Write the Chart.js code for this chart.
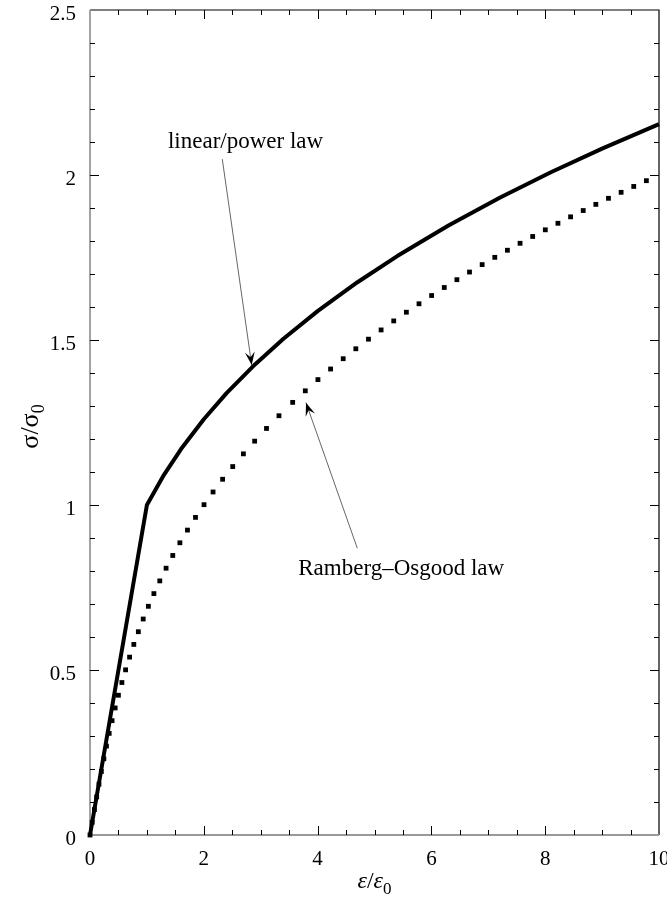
<!DOCTYPE html>
<html>
<head>
<meta charset="utf-8">
<script src="https://cdn.jsdelivr.net/npm/chart.js@4"></script>
<style>
  html, body { margin: 0; padding: 0; background: #fff; }
  #wrap { width: 667px; height: 900px; }
</style>
</head>
<body>
<div id="wrap"><canvas id="stressChart"></canvas></div>
<script>
// linear/power law curve (strain eps/eps0, stress sigma/sigma0)
const powerStrain = [0, 1, 1.3, 1.6, 2, 2.4, 2.9, 3.4, 4, 4.7, 5.4, 6.3, 7.2, 8.1, 9, 10];
const powerStress = [0, 1, 1.0914, 1.1696, 1.2599, 1.3389, 1.426, 1.5037, 1.5874, 1.6751, 1.7544, 1.8469, 1.931, 2.0083, 2.0801, 2.1544];

// Ramberg-Osgood law, one entry per dot in the dotted curve
const roStrain = [
  0, 0.0386, 0.0775, 0.117, 0.1577, 0.1996, 0.2433, 0.2891, 0.3372, 0.3881,
  0.4421, 0.4995, 0.5606, 0.6259, 0.6956, 0.7701, 0.8497, 0.9349, 1.0258, 1.1229,
  1.2265, 1.337, 1.4546, 1.5798, 1.7129, 1.8542, 2.004, 2.1627, 2.3307, 2.5083,
  2.6958, 2.8936, 3.1019, 3.3213,
  3.562, 3.784, 4.006, 4.228, 4.45, 4.672, 4.894, 5.116, 5.338, 5.56,
  5.782, 6.004, 6.226, 6.448, 6.67, 6.892, 7.114, 7.336, 7.558, 7.78,
  8.002, 8.224, 8.446, 8.668, 8.89, 9.112, 9.334, 9.556, 9.778
];
const roStress = [
  0, 0.0385, 0.077, 0.1155, 0.154, 0.1925, 0.231, 0.2695, 0.308, 0.3465,
  0.385, 0.4235, 0.462, 0.5005, 0.539, 0.5775, 0.616, 0.6545, 0.693, 0.7315,
  0.77, 0.8085, 0.847, 0.8855, 0.924, 0.9625, 1.001, 1.0395, 1.078, 1.1165,
  1.155, 1.1935, 1.232, 1.2705,
  1.311, 1.346, 1.38, 1.4121, 1.4433, 1.4734, 1.5025, 1.5305, 1.5578, 1.5842,
  1.6098, 1.6348, 1.6591, 1.6828, 1.7059, 1.7285, 1.7505, 1.772, 1.7931, 1.8137,
  1.8339, 1.8537, 1.8732, 1.8923, 1.911, 1.9294, 1.9475, 1.9653, 1.9828
];

// axis ranges and ticks
const xRange = [0, 10];
const yRange = [0, 2.5];
const xMajor = 2, xMinor = 0.5;
const yMajor = 0.5, yMinor = 0.1;

// callouts: label text, label anchor, arrow start and arrow tip (data units)
const noteText = ['linear/power law', 'Ramberg\u2013Osgood law'];
const noteAt = [[1.37, 2.083], [3.66, 0.788]];
const arrowFrom = [[2.325, 2.048], [4.698, 0.869]];
const arrowTo = [[2.842, 1.424], [3.796, 1.31]];

const serif = '"Liberation Serif", "Times New Roman", serif';

function drawArrow(ctx, x1, y1, x2, y2) {
    ctx.save();
    ctx.strokeStyle = '#555';
    ctx.lineWidth = 0.9;
    ctx.beginPath();
    ctx.moveTo(x1, y1);
    ctx.lineTo(x2, y2);
    ctx.stroke();
    const a = Math.atan2(y2 - y1, x2 - x1);
    const len = 14, wing = 0.36, notch = 8;
    ctx.fillStyle = '#000';
    ctx.beginPath();
    ctx.moveTo(x2, y2);
    ctx.lineTo(x2 - len * Math.cos(a - wing), y2 - len * Math.sin(a - wing));
    ctx.lineTo(x2 - notch * Math.cos(a), y2 - notch * Math.sin(a));
    ctx.lineTo(x2 - len * Math.cos(a + wing), y2 - len * Math.sin(a + wing));
    ctx.closePath();
    ctx.fill();
    ctx.restore();
}

// drop the extra room Chart.js keeps for the first/last tick labels
function fixScale(size, key) {
    return s => {
        s[key] = size;
        s.paddingLeft = s.paddingRight = s.paddingTop = s.paddingBottom = 0;
    };
}

const framePlugin = {
    id: 'frame',
    beforeDatasetsDraw(chart) {
        const { ctx, chartArea: a, scales: { x, y } } = chart;
        ctx.save();
        // top and right edges
        ctx.strokeStyle = '#000';
        ctx.lineWidth = 1.2;
        ctx.beginPath();
        ctx.moveTo(a.left, a.top); ctx.lineTo(a.right, a.top); ctx.lineTo(a.right, a.bottom);
        ctx.stroke();
        // left and bottom edges
        ctx.strokeStyle = '#999';
        ctx.lineWidth = 1.8;
        ctx.beginPath();
        ctx.moveTo(a.left, a.top); ctx.lineTo(a.left, a.bottom); ctx.lineTo(a.right, a.bottom);
        ctx.stroke();
        // inward ticks on all four sides
        ctx.strokeStyle = '#000';
        ctx.lineWidth = 1;
        ctx.beginPath();
        const nx = Math.round((xRange[1] - xRange[0]) / xMinor);
        for (let i = 1; i < nx; i++) {
            const v = xRange[0] + i * xMinor;
            const px = Math.round(x.getPixelForValue(v)) + 0.5;
            const major = Math.abs(v / xMajor - Math.round(v / xMajor)) < 1e-6;
            const len = major ? 9 : 5;
            ctx.moveTo(px, a.bottom); ctx.lineTo(px, a.bottom - len);
            ctx.moveTo(px, a.top); ctx.lineTo(px, a.top + len);
        }
        const ny = Math.round((yRange[1] - yRange[0]) / yMinor);
        for (let i = 1; i < ny; i++) {
            const v = yRange[0] + i * yMinor;
            const py = Math.round(y.getPixelForValue(v)) + 0.5;
            const major = Math.abs(v / yMajor - Math.round(v / yMajor)) < 1e-6;
            const len = major ? 9 : 5;
            ctx.moveTo(a.left, py); ctx.lineTo(a.left + len, py);
            ctx.moveTo(a.right, py); ctx.lineTo(a.right - len, py);
        }
        ctx.stroke();
        ctx.restore();
    },
    afterDraw(chart) {
        const { ctx, chartArea: a, scales: { x, y } } = chart;
        ctx.save();
        // callouts
        for (let i = 0; i < noteText.length; i++) {
            drawArrow(ctx,
                x.getPixelForValue(arrowFrom[i][0]), y.getPixelForValue(arrowFrom[i][1]),
                x.getPixelForValue(arrowTo[i][0]), y.getPixelForValue(arrowTo[i][1]));
            ctx.fillStyle = '#000';
            ctx.font = '23px ' + serif;
            ctx.textAlign = 'left';
            ctx.textBaseline = 'alphabetic';
            ctx.fillText(noteText[i], x.getPixelForValue(noteAt[i][0]), y.getPixelForValue(noteAt[i][1]));
        }
        // x axis title: eps/eps0
        ctx.fillStyle = '#000';
        ctx.textBaseline = 'alphabetic';
        ctx.textAlign = 'left';
        const parts = [['\u03b5', 'italic 24px '], ['/', '24px '], ['\u03b5', 'italic 24px '], ['0', '17px ']];
        let w = 0;
        parts.forEach(p => { ctx.font = p[1] + serif; w += ctx.measureText(p[0]).width; });
        let cx = (a.left + a.right) / 2 - w / 2;
        const by = 888;
        parts.forEach((p, i) => {
            ctx.font = p[1] + serif;
            ctx.fillText(p[0], cx, i === 3 ? by + 6 : by);
            cx += ctx.measureText(p[0]).width;
        });
        // y axis title: sigma/sigma0
        ctx.translate(38, (a.top + a.bottom) / 2 + 4);
        ctx.rotate(-Math.PI / 2);
        const yparts = [['\u03c3', '26px '], ['/', '26px '], ['\u03c3', '26px '], ['0', '18px ']];
        w = 0;
        yparts.forEach(p => { ctx.font = p[1] + serif; w += ctx.measureText(p[0]).width; });
        cx = -w / 2;
        yparts.forEach((p, i) => {
            ctx.font = p[1] + serif;
            ctx.fillText(p[0], cx, i === 3 ? 6 : 0);
            cx += ctx.measureText(p[0]).width;
        });
        ctx.restore();
    }
};

new Chart(document.getElementById('stressChart').getContext('2d'), {
    type: 'scatter',
    data: {
        datasets: [
            {
                label: 'linear/power law',
                data: powerStrain.map((v, i) => ({ x: v, y: powerStress[i] })),
                showLine: true,
                borderColor: '#000',
                borderWidth: 4,
                borderJoinStyle: 'round',
                pointRadius: 0,
                tension: 0,
                clip: false
            },
            {
                label: 'Ramberg\u2013Osgood law',
                data: roStrain.map((v, i) => ({ x: v, y: roStress[i] })),
                showLine: false,
                pointStyle: 'rect',
                pointRadius: 3.4,
                pointBorderWidth: 0,
                backgroundColor: '#000',
                pointBackgroundColor: '#000',
                clip: false
            }
        ]
    },
    options: {
        responsive: true,
        maintainAspectRatio: false,
        animation: false,
        events: [],
        layout: { padding: { top: 10, right: 8, left: 0, bottom: 0 } },
        plugins: { legend: { display: false }, tooltip: { enabled: false } },
        scales: {
            x: {
                type: 'linear',
                min: xRange[0], max: xRange[1],
                afterFit: fixScale(65, 'height'),
                grid: { display: false, drawTicks: false },
                border: { display: false },
                ticks: { stepSize: xMajor, padding: 12, color: '#000', font: { family: serif, size: 21 }, callback: v => String(v), maxRotation: 0 }
            },
            y: {
                type: 'linear',
                min: yRange[0], max: yRange[1],
                afterFit: fixScale(90, 'width'),
                grid: { display: false, drawTicks: false },
                border: { display: false },
                ticks: { stepSize: yMajor, padding: 14, color: '#000', font: { family: serif, size: 21 }, callback: v => String(v), labelOffset: 4 }
            }
        }
    },
    plugins: [framePlugin]
});
</script>
</body>
</html>
